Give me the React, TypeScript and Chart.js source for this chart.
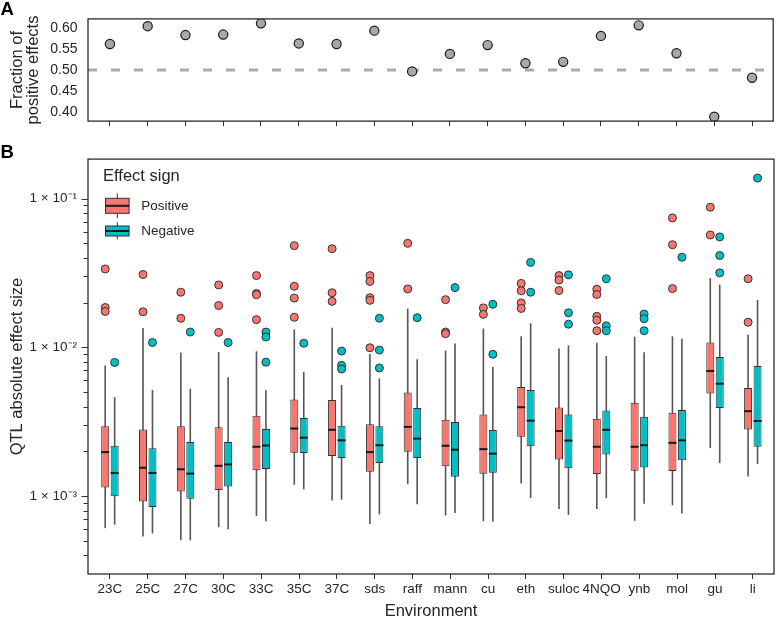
import React, { useEffect, useRef } from 'react';
import { Chart, registerables } from 'chart.js';

Chart.register(...registerables);

// ---------------- data ----------------
const CATEGORIES = ['23C', '25C', '27C', '30C', '33C', '35C', '37C', 'sds', 'raff', 'mann', 'cu', 'eth', 'suloc', '4NQO', 'ynb', 'mol', 'gu', 'li'];

// Panel A
const FRACTION_POSITIVE = [0.5626, 0.6052, 0.584, 0.5852, 0.612, 0.564, 0.5626, 0.5946, 0.4972, 0.539, 0.56, 0.5166, 0.52, 0.582, 0.6072, 0.5406, 0.3892, 0.482];
const FRACTION_TICKS = [0.4, 0.45, 0.5, 0.55, 0.6];
const FRACTION_REFERENCE = 0.5;
const FRACTION_MIN = 0.3786;
const FRACTION_MAX = 0.6226;

// Panel B - positive effects (box statistics)
const POS_LOW = [6.1e-4, 5.37e-4, 5.05e-4, 6.19e-4, 7.38e-4, 1.194e-3, 9.37e-4, 6.51e-4, 1.207e-3, 7.43e-4, 6.78e-4, 1.218e-3, 8.21e-4, 8.21e-4, 6.84e-4, 8.69e-4, 2.104e-3, 1.354e-3];
const POS_Q1 = [1.146e-3, 9.23e-4, 1.074e-3, 1.102e-3, 1.493e-3, 1.962e-3, 1.864e-3, 1.462e-3, 1.991e-3, 1.587e-3, 1.418e-3, 2.512e-3, 1.764e-3, 1.411e-3, 1.484e-3, 1.477e-3, 4.899e-3, 2.808e-3];
const POS_MED = [1.979e-3, 1.553e-3, 1.516e-3, 1.601e-3, 2.149e-3, 2.85e-3, 2.795e-3, 1.979e-3, 2.924e-3, 2.182e-3, 2.072e-3, 3.962e-3, 2.74e-3, 2.149e-3, 2.149e-3, 2.284e-3, 6.95e-3, 3.728e-3];
const POS_Q3 = [2.956e-3, 2.808e-3, 2.956e-3, 2.911e-3, 3.471e-3, 4.473e-3, 4.426e-3, 3.047e-3, 4.974e-3, 3.268e-3, 3.546e-3, 5.423e-3, 3.944e-3, 3.318e-3, 4.255e-3, 3.634e-3, 1.079e-2, 5.342e-3];
const POS_HIGH = [7.575e-3, 1.349e-2, 9.23e-3, 9.31e-3, 9.41e-3, 1.32e-2, 1.355e-2, 9.03e-3, 1.827e-2, 9.51e-3, 1.34e-2, 1.187e-2, 9.85e-3, 1.074e-2, 1.182e-2, 1.187e-2, 2.924e-2, 1.218e-2];
const POS_OUTLIERS = [
  [3.368e-2, 1.855e-2, 1.745e-2],
  [3.09e-2, 1.735e-2],
  [2.35e-2, 1.57e-2],
  [2.63e-2, 1.912e-2, 1.262e-2],
  [3.04e-2, 2.305e-2, 2.26e-2, 1.537e-2],
  [4.83e-2, 2.575e-2, 2.146e-2, 1.594e-2],
  [4.61e-2, 2.33e-2, 2.04e-2],
  [3.04e-2, 2.777e-2, 2.159e-2, 2.072e-2, 9.95e-3],
  [5.01e-2, 2.474e-2],
  [2.094e-2, 1.269e-2, 1.237e-2],
  [1.844e-2, 1.668e-2],
  [2.694e-2, 2.401e-2, 1.989e-2, 1.827e-2],
  [3.04e-2, 2.837e-2, 2.412e-2],
  [2.46e-2, 2.27e-2, 1.618e-2, 1.523e-2, 1.295e-2],
  [],
  [7.42e-2, 4.9e-2, 2.486e-2],
  [8.76e-2, 5.7e-2],
  [2.893e-2, 1.477e-2],
];

// Panel B - negative effects (box statistics)
const NEG_LOW = [6.44e-4, 5.62e-4, 5.05e-4, 6.0e-4, 6.78e-4, 1.112e-3, 9.47e-4, 7.54e-4, 8.82e-4, 7.72e-4, 6.74e-4, 9.7e-4, 7.49e-4, 9.7e-4, 8.91e-4, 7.66e-4, 1.668e-3, 1.65e-3];
const NEG_Q1 = [1.0e-3, 8.46e-4, 9.61e-4, 1.164e-3, 1.523e-3, 1.95e-3, 1.808e-3, 1.675e-3, 1.808e-3, 1.349e-3, 1.439e-3, 2.169e-3, 1.539e-3, 1.904e-3, 1.562e-3, 1.745e-3, 3.921e-3, 2.149e-3];
const NEG_MED = [1.433e-3, 1.433e-3, 1.418e-3, 1.635e-3, 2.192e-3, 2.474e-3, 2.375e-3, 2.202e-3, 2.438e-3, 2.054e-3, 1.932e-3, 3.218e-3, 2.365e-3, 2.795e-3, 2.202e-3, 2.375e-3, 5.703e-3, 3.203e-3];
const NEG_Q3 = [2.182e-3, 2.104e-3, 2.318e-3, 2.318e-3, 2.825e-3, 3.353e-3, 2.97e-3, 2.956e-3, 3.921e-3, 3.155e-3, 2.782e-3, 5.183e-3, 3.546e-3, 3.768e-3, 3.42e-3, 3.802e-3, 8.63e-3, 7.49e-3];
const NEG_HIGH = [4.633e-3, 5.183e-3, 5.285e-3, 6.31e-3, 5.151e-3, 6.844e-3, 5.59e-3, 6.18e-3, 8.33e-3, 1.063e-2, 7.38e-3, 1.455e-2, 1.031e-2, 8.76e-3, 9.27e-3, 1.146e-2, 2.642e-2, 2.082e-2];
const NEG_OUTLIERS = [
  [7.93e-3],
  [1.079e-2],
  [1.269e-2],
  [1.079e-2],
  [1.269e-2, 1.176e-2, 7.96e-3],
  [1.067e-2],
  [9.45e-3, 7.575e-3, 7.16e-3],
  [1.57e-2, 9.6e-3, 7.27e-3],
  [1.584e-2],
  [2.524e-2],
  [1.95e-2, 8.99e-3],
  [3.728e-2, 2.35e-2],
  [3.075e-2, 1.709e-2, 1.433e-2],
  [2.893e-2, 1.396e-2, 1.295e-2],
  [1.675e-2, 1.56e-2, 1.295e-2],
  [4.04e-2],
  [5.53e-2, 4.147e-2, 3.17e-2],
  [1.375e-1],
];

const Y_MAJOR_TICKS = [1e-3, 1e-2, 1e-1];
const Y_MAJOR_LABELS = ['1 × 10⁻³', '1 × 10⁻²', '1 × 10⁻¹'];
const Y_MINOR_TICKS = [4e-4, 5e-4, 6e-4, 7e-4, 8e-4, 9e-4, 2e-3, 3e-3, 4e-3, 5e-3, 6e-3, 7e-3, 8e-3, 9e-3, 2e-2, 3e-2, 4e-2, 5e-2, 6e-2, 7e-2, 8e-2, 9e-2];
const EFFECT_MIN = 3.05e-4;
const EFFECT_MAX = 0.1844;

const SERIES_NAMES = ['Positive', 'Negative'];

// ---------------- styles ----------------
const FONT = '"Liberation Sans", Arial, Helvetica, sans-serif';
const TEXT = '#262626';
const RED = '#F8766D';
const TEAL = '#00BFC4';
const OUTLINE = '#333333';
const WHISKER = '#555555';
const X_MIN = -0.58;
const X_MAX = 17.56;
const DODGE = 0.125;
const BOX_PX = 8;

function drawFrame(chart: any) {
  const { ctx, chartArea: a } = chart;
  ctx.save();
  ctx.strokeStyle = '#1a1a1a';
  ctx.lineWidth = 1.2;
  ctx.strokeRect(a.left, a.top, a.right - a.left, a.bottom - a.top);
  ctx.restore();
}

function rotatedText(ctx: CanvasRenderingContext2D, text: string, x: number, y: number) {
  ctx.save();
  ctx.translate(x, y);
  ctx.rotate(-Math.PI / 2);
  ctx.textAlign = 'center';
  ctx.textBaseline = 'alphabetic';
  ctx.fillText(text, 0, 0);
  ctx.restore();
}

const panelAPlugin = {
  id: 'panelA',
  beforeDatasetsDraw(chart: any) {
    const { ctx, chartArea: a, scales } = chart;
    const y = Math.round(scales.y.getPixelForValue(FRACTION_REFERENCE));
    ctx.save();
    ctx.strokeStyle = '#ababab';
    ctx.lineWidth = 3;
    ctx.setLineDash([9, 14]);
    ctx.beginPath();
    ctx.moveTo(a.left, y);
    ctx.lineTo(a.right, y);
    ctx.stroke();
    ctx.restore();
  },
  afterDraw(chart: any) {
    const { ctx, chartArea: a } = chart;
    drawFrame(chart);
    ctx.save();
    ctx.fillStyle = '#000';
    ctx.font = `bold 18.5px ${FONT}`;
    ctx.textAlign = 'left';
    ctx.textBaseline = 'alphabetic';
    ctx.fillText('A', 0.5, 15);
    ctx.fillStyle = TEXT;
    ctx.font = `16.5px ${FONT}`;
    const cy = (a.top + a.bottom) / 2;
    rotatedText(ctx, 'Fraction of', 21.5, cy);
    rotatedText(ctx, 'positive effects', 38, cy);
    ctx.restore();
  },
};

const panelBPlugin = {
  id: 'panelB',
  afterDatasetDraw(chart: any, args: any) {
    const ds = chart.data.datasets[args.index];
    const k = SERIES_NAMES.indexOf(ds.label);
    if (k < 0) return;
    const meds = k === 0 ? POS_MED : NEG_MED;
    const off = k === 0 ? -DODGE : DODGE;
    const { ctx, scales } = chart;
    ctx.save();
    ctx.strokeStyle = '#1a1a1a';
    ctx.lineWidth = 2;
    meds.forEach((m, i) => {
      const cx = scales.x.getPixelForValue(i + off);
      const y = scales.y.getPixelForValue(m);
      ctx.beginPath();
      ctx.moveTo(cx - BOX_PX / 2, y);
      ctx.lineTo(cx + BOX_PX / 2, y);
      ctx.stroke();
    });
    ctx.restore();
  },
  afterDraw(chart: any) {
    const { ctx, chartArea: a, scales } = chart;
    drawFrame(chart);
    ctx.save();
    // y tick marks (major longer than minor)
    ctx.strokeStyle = OUTLINE;
    ctx.lineWidth = 1;
    const ticks = [...Y_MAJOR_TICKS.map((v) => [v, 6.5]), ...Y_MINOR_TICKS.map((v) => [v, 4.5])];
    ticks.forEach(([v, len]) => {
      const y = Math.round(scales.y.getPixelForValue(v)) + 0.5;
      ctx.beginPath();
      ctx.moveTo(a.left - len, y);
      ctx.lineTo(a.left, y);
      ctx.stroke();
    });
    // panel letter
    ctx.fillStyle = '#000';
    ctx.font = `bold 18.5px ${FONT}`;
    ctx.textAlign = 'left';
    ctx.textBaseline = 'alphabetic';
    ctx.fillText('B', 0.5, 18.3);
    // axis titles
    ctx.fillStyle = TEXT;
    ctx.font = `16.5px ${FONT}`;
    rotatedText(ctx, 'QTL absolute effect size', 22, (a.top + a.bottom) / 2);
    ctx.textAlign = 'center';
    ctx.fillText('Environment', (a.left + a.right) / 2, 476);
    // legend
    ctx.textAlign = 'left';
    ctx.fillText('Effect sign', 103, 40.8);
    const keys = [
      { color: RED, cx: 117.3, wTop: 53.3, bTop: 58.3, med: 65.8, bBot: 73.3, wBot: 78.3, ty: 66 },
      { color: TEAL, cx: 117.3, wTop: 82.3, bTop: 86, med: 91, bBot: 96, wBot: 99.3, ty: 91 },
    ];
    keys.forEach((kk, i) => {
      ctx.strokeStyle = OUTLINE;
      ctx.lineWidth = 1;
      ctx.beginPath();
      ctx.moveTo(kk.cx, kk.wTop);
      ctx.lineTo(kk.cx, kk.wBot);
      ctx.stroke();
      ctx.fillStyle = kk.color;
      ctx.fillRect(kk.cx - 11.8, kk.bTop, 23.6, kk.bBot - kk.bTop);
      ctx.strokeRect(kk.cx - 11.8, kk.bTop, 23.6, kk.bBot - kk.bTop);
      ctx.lineWidth = 2;
      ctx.strokeStyle = '#1a1a1a';
      ctx.beginPath();
      ctx.moveTo(kk.cx - 11.8, kk.med);
      ctx.lineTo(kk.cx + 11.8, kk.med);
      ctx.stroke();
      ctx.fillStyle = TEXT;
      ctx.font = `13.5px ${FONT}`;
      ctx.textBaseline = 'middle';
      ctx.fillText(SERIES_NAMES[i], 141.3, kk.ty);
      ctx.textBaseline = 'alphabetic';
    });
    ctx.restore();
  },
};

const TICK_FONT = { family: FONT, size: 13.5 };

function rangeData(lo: number[], hi: number[], off: number) {
  return CATEGORIES.map((_, i) => ({ x: i + off, y: [lo[i], hi[i]] }));
}
function outlierData(list: number[][], off: number) {
  const pts: { x: number; y: number }[] = [];
  list.forEach((vals, i) => vals.forEach((v) => pts.push({ x: i + off, y: v })));
  return pts;
}

function xScale(showLabels: boolean, height: number) {
  return {
    type: 'linear',
    min: X_MIN,
    max: X_MAX,
    offset: false,
    afterBuildTicks: (s: any) => {
      s.ticks = CATEGORIES.map((_, i) => ({ value: i }));
    },
    afterFit: (s: any) => {
      s.height = height;
    },
    ticks: {
      display: showLabels,
      autoSkip: false,
      maxRotation: 0,
      minRotation: 0,
      padding: 2,
      font: TICK_FONT,
      color: TEXT,
      callback: (v: any) => CATEGORIES[v] ?? '',
    },
    grid: { display: true, offset: false, drawOnChartArea: false, drawTicks: true, tickLength: 5, color: OUTLINE, lineWidth: 1 },
    border: { display: false },
  };
}

export default function App() {
  const refA = useRef<HTMLCanvasElement>(null);
  const refB = useRef<HTMLCanvasElement>(null);

  useEffect(() => {
    const chartA = new Chart(refA.current as HTMLCanvasElement, {
      type: 'scatter',
      data: {
        datasets: [
          {
            label: 'Fraction positive',
            data: CATEGORIES.map((_, i) => ({ x: i, y: FRACTION_POSITIVE[i] })),
            pointRadius: 4.6,
            pointBackgroundColor: '#a8a8a8',
            pointBorderColor: '#1a1a1a',
            pointBorderWidth: 1.2,
          },
        ],
      },
      options: {
        animation: false,
        responsive: false,
        events: [],
        layout: { padding: { left: 0, right: 2, top: 9, bottom: 0 } },
        plugins: { legend: { display: false }, tooltip: { enabled: false } },
        scales: {
          x: xScale(false, 9) as any,
          y: {
            type: 'linear',
            min: FRACTION_MIN,
            max: FRACTION_MAX,
            afterBuildTicks: (s: any) => {
              s.ticks = FRACTION_TICKS.map((v) => ({ value: v }));
            },
            afterFit: (s: any) => {
              s.width = 88;
            },
            ticks: { font: { family: FONT, size: 14 }, color: TEXT, padding: 10.5, callback: (v: any) => Number(v).toFixed(2) },
            grid: { display: false, drawTicks: false, tickLength: 0 },
            border: { display: false },
          },
        },
      },
      plugins: [panelAPlugin],
    });

    const chartB = new Chart(refB.current as HTMLCanvasElement, {
      type: 'bar',
      data: {
        datasets: [
          { type: 'bar', label: 'posWhisker', data: rangeData(POS_LOW, POS_HIGH, -DODGE), backgroundColor: WHISKER, borderWidth: 0, maxBarThickness: 1.6, inflateAmount: 0, grouped: false, barPercentage: 1, categoryPercentage: 1, order: 3 } as any,
          { type: 'bar', label: 'negWhisker', data: rangeData(NEG_LOW, NEG_HIGH, DODGE), backgroundColor: WHISKER, borderWidth: 0, maxBarThickness: 1.6, inflateAmount: 0, grouped: false, barPercentage: 1, categoryPercentage: 1, order: 3 } as any,
          { type: 'bar', label: 'Positive', data: rangeData(POS_Q1, POS_Q3, -DODGE), backgroundColor: RED, borderColor: OUTLINE, borderWidth: 1, borderSkipped: false, maxBarThickness: BOX_PX, inflateAmount: 0, grouped: false, barPercentage: 1, categoryPercentage: 1, order: 2 } as any,
          { type: 'bar', label: 'Negative', data: rangeData(NEG_Q1, NEG_Q3, DODGE), backgroundColor: TEAL, borderColor: OUTLINE, borderWidth: 1, borderSkipped: false, maxBarThickness: BOX_PX, inflateAmount: 0, grouped: false, barPercentage: 1, categoryPercentage: 1, order: 2 } as any,
          { type: 'scatter', label: 'posOutliers', data: outlierData(POS_OUTLIERS, -DODGE), pointRadius: 4, pointBackgroundColor: RED, pointBorderColor: OUTLINE, pointBorderWidth: 1, order: 1 } as any,
          { type: 'scatter', label: 'negOutliers', data: outlierData(NEG_OUTLIERS, DODGE), pointRadius: 4, pointBackgroundColor: TEAL, pointBorderColor: OUTLINE, pointBorderWidth: 1, order: 1 } as any,
        ],
      },
      options: {
        animation: false,
        responsive: false,
        events: [],
        layout: { padding: { left: 0, right: 2, top: 12, bottom: 0 } },
        plugins: { legend: { display: false }, tooltip: { enabled: false } },
        scales: {
          x: xScale(true, 44) as any,
          y: {
            type: 'logarithmic',
            min: EFFECT_MIN,
            max: EFFECT_MAX,
            beginAtZero: false,
            afterBuildTicks: (s: any) => {
              s.ticks = [...Y_MAJOR_TICKS, ...Y_MINOR_TICKS].sort((p, q) => p - q).map((v) => ({ value: v }));
            },
            afterFit: (s: any) => {
              s.width = 88;
            },
            ticks: {
              autoSkip: false,
              font: TICK_FONT,
              color: TEXT,
              padding: 11,
              callback: (v: any) => {
                const k = Y_MAJOR_TICKS.indexOf(Number(v));
                return k >= 0 ? Y_MAJOR_LABELS[k] : '';
              },
            },
            grid: { display: false, drawTicks: false, tickLength: 0 },
            border: { display: false },
          } as any,
        },
      },
      plugins: [panelBPlugin],
    });

    return () => {
      chartA.destroy();
      chartB.destroy();
    };
  }, []);

  return (
    <div style={{ position: 'fixed', left: 0, top: 0, width: 779, height: 618, background: '#fff' }}>
      <canvas ref={refA} width={779} height={140} style={{ position: 'absolute', left: 0, top: 0, width: 779, height: 140 }} />
      <canvas ref={refB} width={779} height={478} style={{ position: 'absolute', left: 0, top: 140, width: 779, height: 478 }} />
    </div>
  );
}
